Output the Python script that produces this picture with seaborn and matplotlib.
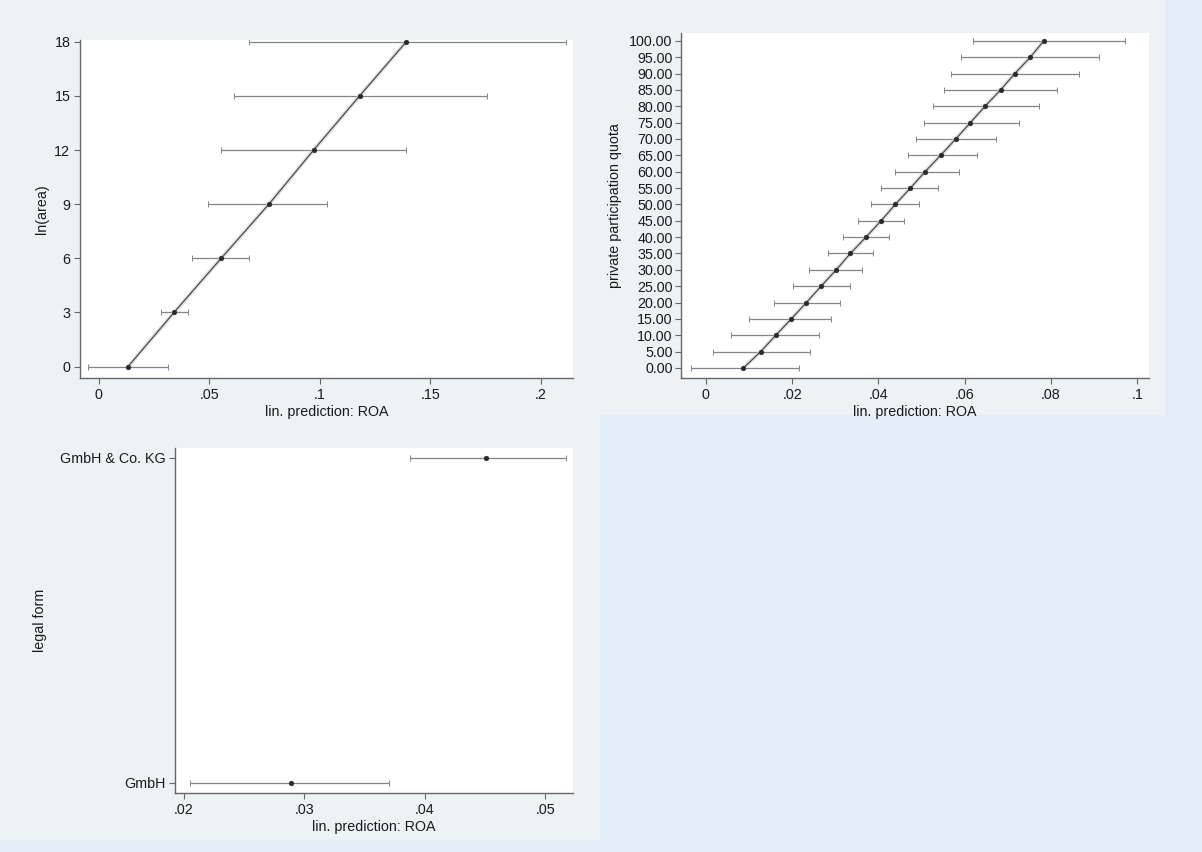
import matplotlib
matplotlib.use("Agg")
import matplotlib.pyplot as plt
from matplotlib.patches import Rectangle
import seaborn as sns
import pandas as pd

# ---------------- data ----------------
area_levels = [0, 3, 6, 9, 12, 15, 18]
area_pred = [0.0133, 0.0341, 0.0554, 0.0770, 0.0972, 0.1180, 0.1391]
area_lo = [-0.0048, 0.0284, 0.0424, 0.0493, 0.0554, 0.0613, 0.0678]
area_hi = [0.0315, 0.0405, 0.0682, 0.1033, 0.1391, 0.1756, 0.2113]
area_xticks = [0, 0.05, 0.1, 0.15, 0.2]
area_xticklabels = ["0", ".05", ".1", ".15", ".2"]
area_yticks = [0, 3, 6, 9, 12, 15, 18]

quota_levels = [0, 5, 10, 15, 20, 25, 30, 35, 40, 45, 50,
                55, 60, 65, 70, 75, 80, 85, 90, 95, 100]
quota_pred = [0.0087, 0.0127, 0.0162, 0.0198, 0.0233, 0.0267, 0.0302,
              0.0335, 0.0371, 0.0406, 0.0439, 0.0474, 0.0508, 0.0544,
              0.0579, 0.0613, 0.0647, 0.0683, 0.0716, 0.0752, 0.0783]
quota_lo = [-0.0035, 0.0016, 0.0059, 0.0100, 0.0158, 0.0202, 0.0240,
            0.0282, 0.0318, 0.0353, 0.0382, 0.0406, 0.0439, 0.0468,
            0.0486, 0.0505, 0.0526, 0.0551, 0.0568, 0.0592, 0.0619]
quota_hi = [0.0217, 0.0242, 0.0262, 0.0291, 0.0311, 0.0335, 0.0362,
            0.0388, 0.0424, 0.0459, 0.0493, 0.0539, 0.0586, 0.0628,
            0.0672, 0.0725, 0.0772, 0.0814, 0.0865, 0.0911, 0.0971]
quota_xticks = [0, 0.02, 0.04, 0.06, 0.08, 0.1]
quota_xticklabels = ["0", ".02", ".04", ".06", ".08", ".1"]

legal_forms = ["GmbH", "GmbH & Co. KG"]
legal_pred = [0.0289, 0.0451]
legal_lo = [0.0205, 0.0388]
legal_hi = [0.0370, 0.0517]
legal_xticks = [0.02, 0.03, 0.04, 0.05]
legal_xticklabels = [".02", ".03", ".04", ".05"]

xlabel = "lin. prediction: ROA"

# ---------------- style ----------------
sns.set_theme(style="ticks")
plt.rcParams["font.family"] = ["Liberation Sans", "DejaVu Sans"]
FS = 10.3
plt.rcParams["font.size"] = FS

W, H = 1202, 852
fig = plt.figure(figsize=(W / 100, H / 100), dpi=100)
fig.patch.set_facecolor("#e4eef9")

panel_col = "#edf3f5"
for (x0, y0, w, h) in [(0, 0, 600, 425), (600, 0, 565, 415), (0, 425, 600, 415)]:
    fig.patches.append(Rectangle((x0 / W, 1 - (y0 + h) / H), w / W, h / H,
                                 transform=fig.transFigure, facecolor=panel_col,
                                 edgecolor="none", zorder=-10))

def make_ax(left, top, right, bottom):
    ax = fig.add_axes([left / W, 1 - bottom / H, (right - left) / W, (bottom - top) / H])
    ax.set_zorder(1)
    return ax

AX = {1: (80, 40, 573, 378), 2: (681, 33, 1149, 378), 3: (175, 448, 573, 793)}
ax1 = make_ax(*AX[1])
ax2 = make_ax(*AX[2])
ax3 = make_ax(*AX[3])

line_col = "#4a4a4a"
ci_col = "#858585"
pt_col = "#2a2a2a"
txt_col = "#1a1a1a"

def style(ax):
    ax.set_facecolor("white")
    sns.despine(ax=ax)
    for s in ["left", "bottom"]:
        ax.spines[s].set_color("#666666")
        ax.spines[s].set_linewidth(1.0)
    ax.tick_params(axis="both", direction="out", length=4, width=0.8,
                   color="#666666", labelcolor=txt_col, labelsize=FS, pad=3)
    ax.grid(False)

def place_ylabel(ax, key, center_px):
    left, top, right, bottom = AX[key]
    ax.yaxis.set_label_coords((center_px + 7 - left) / (right - left), 0.5)

def draw(ax, pred, lvl, lo, hi, connect=True):
    df = pd.DataFrame({"pred": pred, "lvl": lvl})
    xerr = [[p - l for p, l in zip(pred, lo)], [h - p for p, h in zip(pred, hi)]]
    ax.errorbar(pred, lvl, xerr=xerr, fmt="none", ecolor=ci_col, elinewidth=0.9,
                capsize=2.0, capthick=0.7, zorder=2)
    if connect:
        sns.lineplot(data=df, x="pred", y="lvl", sort=False, color="#cfcfcf",
                     linewidth=3.0, alpha=0.6, ax=ax, zorder=3)
        sns.lineplot(data=df, x="pred", y="lvl", sort=False, color=line_col,
                     linewidth=0.9, ax=ax, zorder=4)
    sns.scatterplot(data=df, x="pred", y="lvl", color=pt_col, s=12,
                    edgecolor=pt_col, linewidth=0.3, ax=ax, zorder=5)

# ---- panel 1: ln(area)
draw(ax1, area_pred, area_levels, area_lo, area_hi)
style(ax1)
ax1.set_xlim(-0.0084, 0.2145)
ax1.set_ylim(-0.63, 18.1)
ax1.set_xticks(area_xticks, area_xticklabels)
ax1.set_yticks(area_yticks, [str(v) for v in area_yticks])
ax1.set_xlabel(xlabel, color=txt_col, fontsize=FS, labelpad=2)
ax1.set_ylabel("ln(area)", color=txt_col, fontsize=FS)
place_ylabel(ax1, 1, 42)

# ---- panel 2: private participation quota
draw(ax2, quota_pred, quota_levels, quota_lo, quota_hi)
style(ax2)
ax2.set_xlim(-0.00576, 0.1027)
ax2.set_ylim(-3.06, 102.4)
ax2.set_xticks(quota_xticks, quota_xticklabels)
ax2.set_yticks(quota_levels, [f"{v:.2f}" for v in quota_levels])
ax2.tick_params(axis="y", labelsize=FS, pad=2)
ax2.set_xlabel(xlabel, color=txt_col, fontsize=FS, labelpad=2)
ax2.set_ylabel("private participation quota", color=txt_col, fontsize=FS)
place_ylabel(ax2, 2, 615)

# ---- panel 3: legal form
draw(ax3, legal_pred, [0, 1], legal_lo, legal_hi, connect=False)
style(ax3)
ax3.set_xlim(0.01928, 0.0523)
ax3.set_ylim(-0.031, 1.03)
ax3.set_xticks(legal_xticks, legal_xticklabels)
ax3.set_yticks([0, 1], legal_forms)
ax3.set_xlabel(xlabel, color=txt_col, fontsize=FS, labelpad=2)
ax3.set_ylabel("legal form", color=txt_col, fontsize=FS)
place_ylabel(ax3, 3, 40)

fig.savefig("out.png", dpi=100, facecolor=fig.get_facecolor())
